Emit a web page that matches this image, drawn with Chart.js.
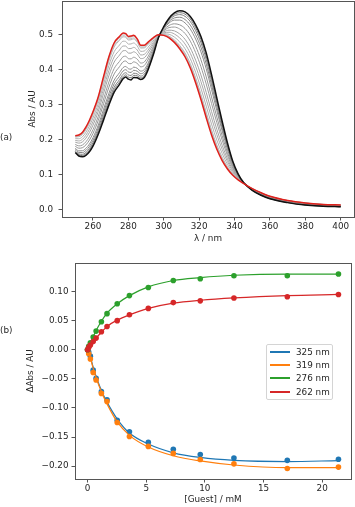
<!DOCTYPE html>
<html>
<head>
<meta charset="utf-8">
<script src="https://cdn.jsdelivr.net/npm/chart.js@4.4.1/dist/chart.umd.min.js"></script>
<style>
  body { margin: 0; background: #fff; }
  #wrap { position: relative; width: 355px; height: 507px; font-family: "DejaVu Sans", sans-serif; color: #262626; }
  canvas { position: absolute; left: 0; }
  #top { top: 0; }
  #bottom { top: 250px; }
  .panel { position: absolute; left: 0; font-size: 8.8px; line-height: 10px; }
  #legend { position: absolute; left: 266px; top: 344px; width: 67px; height: 56px; box-sizing: border-box;
            border: 1px solid #d4d4d4; border-radius: 2px; background: rgba(255,255,255,0.8); font-size: 8.8px; }
  .item { position: absolute; left: 0; width: 100%; height: 10px; }
  .item i { position: absolute; left: 3px; top: 4px; width: 20px; height: 1.5px; }
  .item span { position: absolute; left: 29px; top: 0; line-height: 10px; white-space: nowrap; }
</style>
</head>
<body>
<div id="wrap">
  <canvas id="top" width="355" height="250"></canvas>
  <canvas id="bottom" width="355" height="257"></canvas>
  <div class="panel" style="top:132px">(a)</div>
  <div class="panel" style="top:325px">(b)</div>
  <div id="legend"></div>
</div>
<script>
// (a) spectra
const wavelengths = [250, 252, 254, 256, 258, 260, 263, 266, 269, 272, 275, 277, 278.5, 280, 281.5, 283, 285, 287, 289, 291,
  294, 297, 300, 303, 306, 309, 312, 315, 318, 321, 324, 327, 330, 333, 336, 339, 342, 345, 350, 355, 360, 370, 380, 390, 400];
// first spectrum (no guest, black)
const absStart = [0.163, 0.153, 0.151, 0.155, 0.165, 0.181, 0.215, 0.256, 0.298, 0.335, 0.357, 0.373, 0.378, 0.372, 0.370, 0.377, 0.376, 0.371, 0.377, 0.397,
  0.440, 0.490, 0.522, 0.546, 0.561, 0.567, 0.564, 0.551, 0.527, 0.494, 0.447, 0.385, 0.318, 0.252, 0.190, 0.138, 0.102, 0.078, 0.055, 0.041, 0.031, 0.020, 0.013, 0.010, 0.008];
// last spectrum (red)
const absEnd = [0.211, 0.213, 0.220, 0.235, 0.255, 0.279, 0.322, 0.380, 0.436, 0.476, 0.494, 0.504, 0.502, 0.494, 0.495, 0.497, 0.487, 0.469, 0.469, 0.477,
  0.490, 0.499, 0.497, 0.490, 0.477, 0.459, 0.436, 0.404, 0.362, 0.314, 0.262, 0.213, 0.172, 0.140, 0.116, 0.098, 0.085, 0.075, 0.060, 0.048, 0.038, 0.026, 0.019, 0.015, 0.013];
// where each grey spectrum sits between first and last
const grayMix = [0.05, 0.10, 0.17, 0.245, 0.37, 0.48, 0.61, 0.715, 0.82, 0.915, 0.94, 0.975, 0.985];
const topXTicks = [260, 280, 300, 320, 340, 360, 380, 400];
const topYTicks = [0, 0.1, 0.2, 0.3, 0.4, 0.5];

// (b) titration
const guest = [0, 0.1, 0.24, 0.48, 0.73, 1.18, 1.66, 2.53, 3.57, 5.18, 7.31, 9.61, 12.48, 17.03, 21.39];
const pts325 = [0, -0.004, -0.011, -0.035, -0.049, -0.072, -0.086, -0.121, -0.141, -0.159, -0.171, -0.180, -0.186, -0.190, -0.188];
const fit325 = [0, -0.005, -0.012, -0.030, -0.046, -0.070, -0.090, -0.119, -0.143, -0.162, -0.177, -0.185, -0.190, -0.192, -0.1905];
const pts319 = [0, -0.007, -0.016, -0.039, -0.052, -0.075, -0.089, -0.125, -0.149, -0.166, -0.178, -0.1885, -0.196, -0.204, -0.2016];
const fit319 = [0, -0.006, -0.014, -0.032, -0.048, -0.072, -0.093, -0.124, -0.147, -0.167, -0.182, -0.191, -0.198, -0.2025, -0.2025];
const pts276 = [0, 0.006, 0.012, 0.022, 0.032, 0.048, 0.062, 0.079, 0.093, 0.107, 0.119, 0.122, 0.127, 0.127, 0.130];
const fit276 = [0, 0.005, 0.012, 0.022, 0.033, 0.049, 0.063, 0.079, 0.093, 0.108, 0.119, 0.124, 0.128, 0.130, 0.130];
const pts262 = [0, 0.004, 0.008, 0.014, 0.020, 0.031, 0.040, 0.050, 0.060, 0.071, 0.081, 0.084, 0.089, 0.091, 0.095];
const fit262 = [0, 0.003, 0.008, 0.014, 0.020, 0.030, 0.040, 0.051, 0.060, 0.071, 0.080, 0.085, 0.089, 0.093, 0.095];
const seriesLabels = ["325 nm", "319 nm", "276 nm", "262 nm"];
const seriesColors = ["#1f77b4", "#ff7f0e", "#2ca02c", "#d62728"];
const botXTicks = [0, 5, 10, 15, 20];
const botYTicks = [-0.2, -0.15, -0.1, -0.05, 0, 0.05, 0.1];

Chart.defaults.font.family = "DejaVu Sans";
Chart.defaults.font.size = 8.8;
Chart.defaults.color = "#262626";

// box round the plot area, like matplotlib spines
const frame = {
  id: "frame",
  afterDraw(chart) {
    const a = chart.chartArea, c = chart.ctx;
    c.save();
    c.strokeStyle = "#555";
    c.lineWidth = 1;
    c.strokeRect(Math.round(a.left) + 0.5, Math.round(a.top) + 0.5, Math.round(a.right - a.left), Math.round(a.bottom - a.top));
    c.restore();
  },
};

function axis(min, max, ticks, fmt, size, isY, title, pads) {
  return {
    type: "linear",
    min: min,
    max: max,
    afterBuildTicks: (s) => { s.ticks = ticks.map((v) => ({ value: v })); },
    afterFit: (s) => {
      if (isY) s.width = size; else s.height = size;
      s.paddingTop = 0; s.paddingBottom = 0; s.paddingLeft = 0; s.paddingRight = 0;
    },
    grid: { display: true, drawOnChartArea: false, drawTicks: true, tickLength: 3.5, color: "#555" },
    border: { display: false },
    ticks: { autoSkip: false, maxRotation: 0, padding: pads.tick, callback: fmt },
    title: { display: true, text: title, padding: pads.title },
  };
}

function toXY(xs, ys) {
  return xs.map((x, i) => ({ x: x, y: ys[i] }));
}

// spectra
const spectra = [];
spectra.push({ data: toXY(wavelengths, absStart), borderColor: "#111", borderWidth: 1.5, order: 1 });
grayMix.forEach((f, k) => {
  const g = Math.round(120 + (k / (grayMix.length - 1)) * 85);
  const ys = absStart.map((v, i) => v + f * (absEnd[i] - v));
  spectra.push({ data: toXY(wavelengths, ys), borderColor: "rgb(" + g + "," + g + "," + g + ")", borderWidth: 1, order: 2 + k });
});
spectra.push({ data: toXY(wavelengths, absEnd), borderColor: "#e0201b", borderWidth: 1.5, order: 0 });

new Chart(document.getElementById("top"), {
  type: "line",
  data: { datasets: spectra },
  options: {
    responsive: false,
    devicePixelRatio: 1,
    animation: false,
    layout: { padding: { left: 0, top: 1, right: 1, bottom: 0 } },
    elements: { point: { radius: 0 }, line: { cubicInterpolationMode: "monotone", borderJoinStyle: "round" } },
    plugins: { legend: { display: false }, tooltip: { enabled: false } },
    scales: {
      x: axis(242.5, 407.5, topXTicks, (v) => String(v), 33, false, "λ / nm", { tick: 1, title: { top: 0, bottom: 5.7 } }),
      y: axis(-0.021, 0.595, topYTicks, (v) => v.toFixed(1), 62, true, "Abs / AU", { tick: 5.5, title: { top: 27.4, bottom: 0 } }),
    },
  },
  plugins: [frame],
});

// titration points and fits
const pts = [pts325, pts319, pts276, pts262];
const fits = [fit325, fit319, fit276, fit262];
const titration = [];
seriesColors.forEach((col, i) => {
  const base = (3 - i) * 2;
  titration.push({ label: seriesLabels[i], data: toXY(guest, fits[i]), borderColor: col, borderWidth: 1.2,
    showLine: true, pointRadius: 0, cubicInterpolationMode: "monotone", order: base + 1 });
  titration.push({ data: toXY(guest, pts[i]), backgroundColor: col, borderColor: col, showLine: false,
    pointRadius: 2.8, pointBorderWidth: 0, order: base });
});

new Chart(document.getElementById("bottom"), {
  type: "scatter",
  data: { datasets: titration },
  options: {
    responsive: false,
    devicePixelRatio: 1,
    animation: false,
    layout: { padding: { left: 0, top: 13, right: 2, bottom: 0 } },
    plugins: { legend: { display: false }, tooltip: { enabled: false } },
    scales: {
      x: axis(-1.07, 22.46, botXTicks, (v) => String(v), 28, false, "[Guest] / mM", { tick: 1.2, title: { top: 0, bottom: 1.7 } }),
      y: axis(-0.222, 0.149, botYTicks, (v) => (v < -1e-9 ? "\u2212" : "") + Math.abs(v).toFixed(2), 75, true, "ΔAbs / AU",
        { tick: 3, title: { top: 25.4, bottom: 0 } }),
    },
  },
  plugins: [frame],
});

// legend box inside panel (b)
const legend = document.getElementById("legend");
seriesLabels.forEach((lab, i) => {
  const row = document.createElement("div");
  row.className = "item";
  row.style.top = Math.round(1.7 + i * 13.3) + "px";
  row.innerHTML = '<i style="background:' + seriesColors[i] + '"></i><span>' + lab + "</span>";
  legend.appendChild(row);
});
</script>
</body>
</html>
